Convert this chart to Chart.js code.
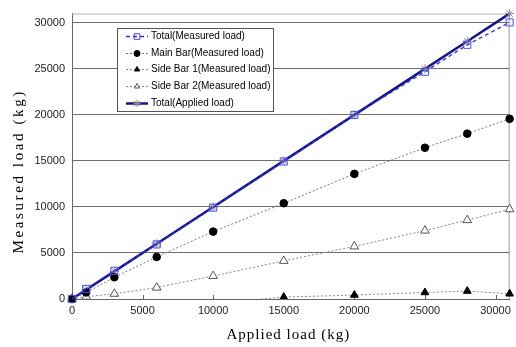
<!DOCTYPE html>
<html>
<head>
<meta charset="utf-8">
<script src="https://cdn.jsdelivr.net/npm/chart.js@4.4.1/dist/chart.umd.min.js"></script>
<style>
html,body{margin:0;padding:0;background:#ffffff;}
canvas{display:block;}
</style>
</head>
<body>
<canvas id="c" width="516" height="347"></canvas>
<script>
// ---- data ----
const appliedLoad   = [0, 1000, 3000, 6000, 10000, 15000, 20000, 25000, 28000, 31000];
const totalMeasured = [0, 1100, 3070, 5930, 9920, 14930, 20000, 24680, 27610, 30040];
const mainBar       = [0, 710, 2360, 4570, 7320, 10400, 13590, 16430, 17960, 19570];
const sideBar1      = [0, null, null, null, -500, 210, 430, 710, 860, 570];
const sideBar2      = [0, 250, 570, 1240, 2500, 4140, 5710, 7430, 8570, 9750];
const totalApplied  = [0, 1000, 3000, 6000, 10000, 15000, 20000, 25000, 28000, 31000];
const seriesLabels  = ['Total(Measured load)', 'Main Bar(Measured load)', 'Side Bar 1(Measured load)', 'Side Bar 2(Measured load)', 'Total(Applied load)'];
const tickValues    = [0, 5000, 10000, 15000, 20000, 25000, 30000];
const xTitle = 'Applied load (kg)';
const yTitle = 'Measured load (kg)';
const axisMin = 0, axisMax = 31000;

function pts(ys){ return appliedLoad.map((x,i)=>({x:x, y:ys[i]})); }
function setTicks(scale){ scale.ticks = tickValues.map(v => ({value: v})); }

function patchTitle(scale, spacing, dx, dy){
  if (scale._patched) return;
  scale._patched = true;
  const orig = scale.drawTitle;
  scale.drawTitle = function(){
    const ctx = this.ctx;
    ctx.save();
    ctx.letterSpacing = spacing + 'px';
    ctx.translate(dx, dy);
    orig.call(this);
    ctx.restore();
  };
}

const frameAndTicks = {
  id: 'frameAndTicks',
  beforeDatasetsDraw(chart){
    const {ctx, chartArea:a} = chart;
    const xs = chart.scales.x;
    ctx.save();
    ctx.lineWidth = 1;
    ctx.strokeStyle = '#b8b8b8';
    ctx.beginPath();
    ctx.moveTo(a.left, a.top + 0.5); ctx.lineTo(a.right, a.top + 0.5);
    ctx.stroke();
    ctx.strokeStyle = '#9a9a9a';
    ctx.beginPath();
    ctx.moveTo(a.right - 0.5, a.top); ctx.lineTo(a.right - 0.5, a.bottom);
    ctx.stroke();
    ctx.strokeStyle = '#666';
    ctx.beginPath();
    xs.ticks.forEach(t => {
      const px = Math.round(xs.getPixelForValue(t.value)) + 0.5;
      ctx.moveTo(px, a.bottom); ctx.lineTo(px, a.bottom - 4);
    });
    ctx.stroke();
    ctx.restore();
  }
};

const boxLegend = {
  id: 'boxLegend',
  afterDraw(chart){
    const ctx = chart.ctx;
    const bx = 117, by = 28, bw = 156, bh = 83;
    ctx.save();
    ctx.fillStyle = '#ffffff';
    ctx.fillRect(bx, by, bw, bh);
    ctx.strokeStyle = '#555';
    ctx.lineWidth = 1;
    ctx.strokeRect(bx + 0.5, by + 0.5, bw, bh);
    chart.data.datasets.forEach((ds, i) => {
      const y = Math.round(36 + i * 16.7) + 0.5;
      ctx.save();
      ctx.strokeStyle = ds.borderColor;
      ctx.lineWidth = ds.borderWidth;
      ctx.setLineDash(ds.borderDash || []);
      ctx.beginPath();
      ctx.moveTo(126, y); ctx.lineTo(148, y);
      ctx.stroke();
      ctx.restore();
      ctx.save();
      ctx.fillStyle = ds.pointBackgroundColor;
      ctx.strokeStyle = ds.pointBorderColor;
      ctx.lineWidth = 1;
      Chart.helpers.drawPoint(ctx, {pointStyle: ds.pointStyle, rotation: 0, radius: ds.legendRadius, borderWidth: 1}, 137, y);
      ctx.restore();
      ctx.fillStyle = '#000';
      ctx.font = '10px "Liberation Sans", Arial, sans-serif';
      ctx.textBaseline = 'middle';
      ctx.textAlign = 'left';
      ctx.fillText(ds.label, 151, y);
    });
    ctx.restore();
  }
};

const tickFont = {family: '"Liberation Sans", Arial, sans-serif', size: 11};
const titleFont = {family: '"Liberation Serif", "Times New Roman", serif', size: 15};

new Chart(document.getElementById('c'), {
  type: 'line',
  data: {
    datasets: [
      {label: seriesLabels[0], data: pts(totalMeasured), borderColor: '#2e2ee6', borderWidth: 1.3, borderDash: [4,3],
       pointStyle: 'rect', pointRadius: 5, pointBorderColor: '#4a4aff', pointBackgroundColor: 'rgba(255,255,255,0)', pointBorderWidth: 1, legendRadius: 4, clip: false},
      {label: seriesLabels[1], data: pts(mainBar), borderColor: '#777', borderWidth: 1, borderDash: [2,2],
       pointStyle: 'circle', pointRadius: 3.8, pointBorderColor: '#000', pointBackgroundColor: '#000', pointBorderWidth: 1, legendRadius: 3, clip: false},
      {label: seriesLabels[2], data: pts(sideBar1), borderColor: '#888', borderWidth: 1, borderDash: [2,2], spanGaps: false,
       pointStyle: 'triangle', pointRadius: 4.5, pointBorderColor: '#000', pointBackgroundColor: '#000', pointBorderWidth: 1, legendRadius: 3, clip: {left: 10, right: 10, top: 10, bottom: 0}},
      {label: seriesLabels[3], data: pts(sideBar2), borderColor: '#888', borderWidth: 1, borderDash: [2,2],
       pointStyle: 'triangle', pointRadius: 5, pointBorderColor: '#555', pointBackgroundColor: '#fff', pointBorderWidth: 1, legendRadius: 3, clip: false},
      {label: seriesLabels[4], data: pts(totalApplied), borderColor: '#14148c', borderWidth: 2.5,
       pointStyle: 'star', pointRadius: 4.5, pointBorderColor: '#8a8a8a', pointBackgroundColor: '#8a8a8a', pointBorderWidth: 1, legendRadius: 3.5, clip: false}
    ]
  },
  options: {
    responsive: false,
    animation: false,
    events: [],
    layout: {padding: {top: 10, right: 4, left: 0, bottom: 0}},
    plugins: {legend: {display: false}, tooltip: {enabled: false}},
    elements: {line: {tension: 0}},
    scales: {
      x: {
        type: 'linear', min: axisMin, max: axisMax,
        afterBuildTicks: setTicks,
        ticks: {font: tickFont, color: '#222', padding: 5, maxRotation: 0, autoSkip: false, callback: v => String(v)},
        grid: {display: true, drawOnChartArea: false, drawTicks: false},
        border: {display: true, color: '#666'},
        title: {display: true, text: xTitle, font: titleFont, color: '#000', padding: {top: 0, bottom: 3}},
        afterFit: s => { s.height = 48; patchTitle(s, 1, -2.5, 0); }
      },
      y: {
        type: 'linear', min: axisMin, max: axisMax,
        afterBuildTicks: setTicks,
        ticks: {font: tickFont, color: '#222', padding: 7, autoSkip: false, callback: v => String(v)},
        grid: {color: '#6e6e6e', drawTicks: false},
        border: {display: true, color: '#666'},
        title: {display: true, text: yTitle, font: titleFont, color: '#000', padding: {top: 10.5, bottom: 0}},
        afterFit: s => { s.width = 72; patchTitle(s, 2.6, 0, 15); }
      }
    }
  },
  plugins: [frameAndTicks, boxLegend]
});
</script>
</body>
</html>
